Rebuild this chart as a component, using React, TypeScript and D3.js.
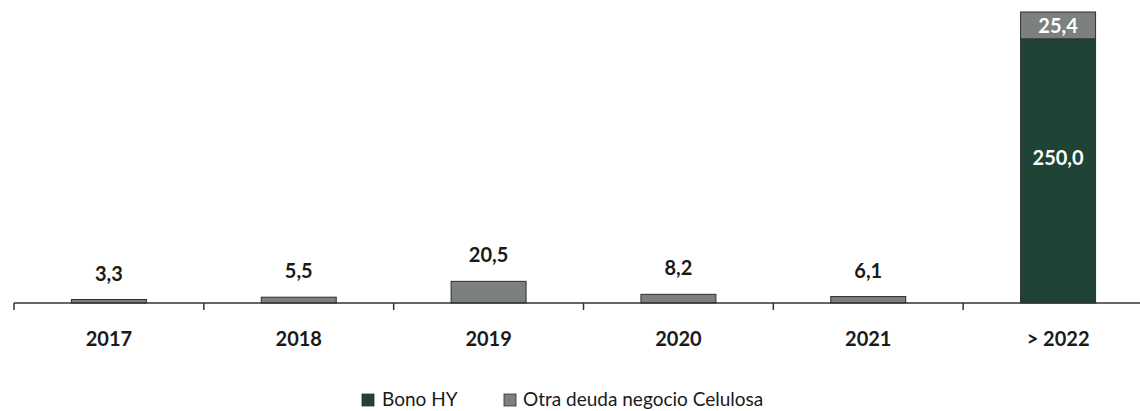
import React from "react";
import * as d3 from "d3";

const categories = ["2017", "2018", "2019", "2020", "2021", "> 2022"];
const bonoHY = [0, 0, 0, 0, 0, 250.0];
const otraDeuda = [3.3, 5.5, 20.5, 8.2, 6.1, 25.4];
const seriesNames = ["Bono HY", "Otra deuda negocio Celulosa"];
const seriesColors = ["#1f4335", "#7c807e"];

const W = 1140;
const H = 411;
const FONT = "Lato, 'Open Sans', sans-serif";

const fmt = (v: number) => v.toFixed(1).replace(".", ",");

export default function App() {
  const rows = categories.map((c, i) => ({ cat: c, bono: bonoHY[i], otra: otraDeuda[i] }));
  const stack = d3.stack<any>().keys(["bono", "otra"]);
  const stacked = stack(rows);

  const x = d3.scaleBand<string>().domain(categories).range([14, 1153]).padding(0);
  const barW = x.bandwidth() * 0.395;
  const totals = rows.map((r) => r.bono + r.otra);
  const y = d3.scaleLinear().domain([0, d3.max(totals) as number]).range([303, 12]);

  return (
    <svg width={W} height={H} style={{ position: "absolute", left: 0, top: 0, background: "#fff" }}>
      <rect x={0} y={0} width={W} height={H} fill="#fff" />
      {stacked.map((s, si) =>
        s.map((d, i) => {
          const v = d[1] - d[0];
          if (v <= 0) return null;
          const cx = (x(categories[i]) as number) + x.bandwidth() / 2;
          return (
            <rect
              key={`${si}-${i}`}
              x={cx - barW / 2}
              y={y(d[1])}
              width={barW}
              height={y(d[0]) - y(d[1])}
              fill={seriesColors[si]}
              stroke="#2e2e2e"
              strokeWidth={1}
            />
          );
        })
      )}
      {/* axis */}
      <line x1={14} x2={W} y1={y(0)} y2={y(0)} stroke="#333" strokeWidth={1.5} />
      {categories.map((c) => (
        <line key={c} x1={x(c)} x2={x(c)} y1={y(0)} y2={y(0) + 7} stroke="#333" strokeWidth={1.5} />
      ))}
      {categories.map((c) => (
        <text
          key={c}
          x={(x(c) as number) + x.bandwidth() / 2}
          y={346}
          textAnchor="middle"
          fontFamily={FONT}
          fontWeight={700}
          fontSize={20}
          fill="#1a1a1a"
        >
          {c}
        </text>
      ))}
      {/* value labels */}
      {rows.map((r, i) => {
        const cx = (x(r.cat) as number) + x.bandwidth() / 2;
        if (r.bono > 0) {
          return (
            <g key={i}>
              <text x={cx} y={(y(r.bono) + y(0)) / 2 - 6} textAnchor="middle" fontFamily={FONT} fontWeight={700} fontSize={20} fill="#fff">
                {fmt(r.bono)}
              </text>
              <text x={cx} y={y(r.bono + r.otra) + 21} textAnchor="middle" fontFamily={FONT} fontWeight={700} fontSize={20} fill="#fff">
                {fmt(r.otra)}
              </text>
            </g>
          );
        }
        return (
          <text key={i} x={cx} y={y(r.otra) - 19} textAnchor="middle" fontFamily={FONT} fontWeight={700} fontSize={20} fill="#1a1a1a">
            {fmt(r.otra)}
          </text>
        );
      })}
      {/* legend */}
      <g fontFamily={FONT} fontSize={19} fill="#1a1a1a">
        <rect x={362} y={394} width={12} height={12} fill={seriesColors[0]} stroke="#2e2e2e" strokeWidth={0.8} />
        <text x={382} y={406}>{seriesNames[0]}</text>
        <rect x={504} y={394} width={12} height={12} fill={seriesColors[1]} stroke="#2e2e2e" strokeWidth={0.8} />
        <text x={523} y={406}>{seriesNames[1]}</text>
      </g>
    </svg>
  );
}
